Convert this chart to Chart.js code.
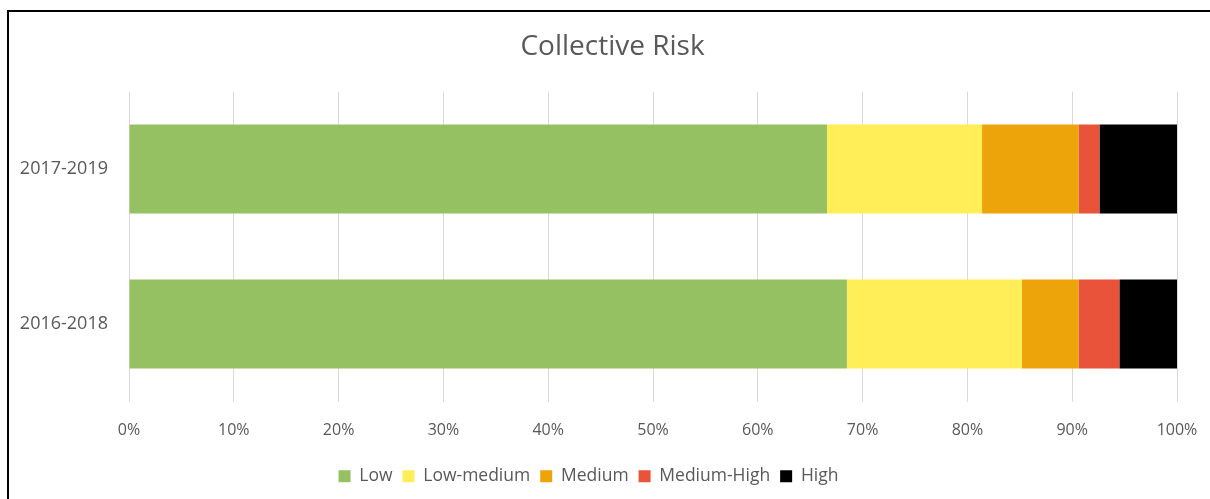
<!DOCTYPE html>
<html>
<head>
<meta charset="utf-8">
<title>Collective Risk</title>
<script src="https://cdn.jsdelivr.net/npm/chart.js@4/dist/chart.umd.min.js"></script>
<style>
  html, body { margin: 0; padding: 0; background: #fff; }
  #wrap { position: relative; width: 1210px; height: 499px; overflow: hidden; }
  #frame {
    position: absolute; left: 7px; top: 10px; right: -10px; bottom: -10px;
    border-top: 2px solid #000; border-left: 2px solid #000;
  }
  #riskChart { position: absolute; left: 0; top: 0; }
</style>
</head>
<body>
<div id="wrap">
  <div id="frame"></div>
  <canvas id="riskChart" width="1210" height="499"></canvas>
</div>
<script>
const periods = ["2017-2019", "2016-2018"];
const riskLevels = ["Low", "Low-medium", "Medium", "Medium-High", "High"];
const lowShare = [66.6, 68.5];
const lowMediumShare = [14.8, 16.7];
const mediumShare = [9.2, 5.4];
const mediumHighShare = [2.0, 3.9];
const highShare = [7.4, 5.5];
const percentTicks = [0, 10, 20, 30, 40, 50, 60, 70, 80, 90, 100];

const levelColors = ["#95c163", "#ffee58", "#eda30a", "#e8533a", "#000000"];
const textColor = "#595959";
const fontFamily = "'Open Sans', 'Noto Sans', sans-serif";

const seriesValues = [lowShare, lowMediumShare, mediumShare, mediumHighShare, highShare];

const datasets = riskLevels.map((label, i) => ({
  label,
  data: seriesValues[i],
  backgroundColor: levelColors[i],
  borderWidth: 0,
  barPercentage: 0.574,
  categoryPercentage: 1,
}));

// the title sits a bit right of the canvas centre in the original
const shiftTitle = {
  id: "shiftTitle",
  afterLayout(chart) {
    if (chart.titleBlock) chart.titleBlock.left += 48;
  },
};

new Chart(document.getElementById("riskChart"), {
  type: "bar",
  data: { labels: periods, datasets },
  plugins: [shiftTitle],
  options: {
    indexAxis: "y",
    responsive: false,
    animation: false,
    layout: { padding: { top: 12, right: 33, bottom: 4, left: 0 } },
    plugins: {
      title: {
        display: true,
        text: "Collective Risk",
        color: textColor,
        font: { family: fontFamily, size: 28, weight: "normal" },
        padding: { top: 18, bottom: 28 },
      },
      legend: {
        position: "bottom",
        labels: {
          color: textColor,
          font: { family: fontFamily, size: 17.5 },
          boxWidth: 12,
          boxHeight: 12,
          padding: 10,
        },
      },
      tooltip: { enabled: false },
    },
    scales: {
      x: {
        stacked: true,
        min: 0,
        max: 100,
        afterBuildTicks: (scale) => {
          scale.ticks = percentTicks.map((value) => ({ value }));
        },
        afterFit: (scale) => {
          scale.height = 56;
          scale.paddingLeft = 0;
          scale.paddingRight = 0;
        },
        ticks: {
          color: textColor,
          font: { family: fontFamily, size: 16 },
          padding: 19,
          callback: (value) => `${value}%`,
        },
        grid: { color: "#d9d9d9", lineWidth: 1, drawTicks: false },
        border: { display: false },
      },
      y: {
        stacked: true,
        afterFit: (scale) => {
          scale.width = 129;
        },
        ticks: {
          color: textColor,
          font: { family: fontFamily, size: 18 },
          padding: 21,
        },
        grid: { display: false, drawTicks: false },
        border: { display: false },
      },
    },
  },
});
</script>
</body>
</html>
